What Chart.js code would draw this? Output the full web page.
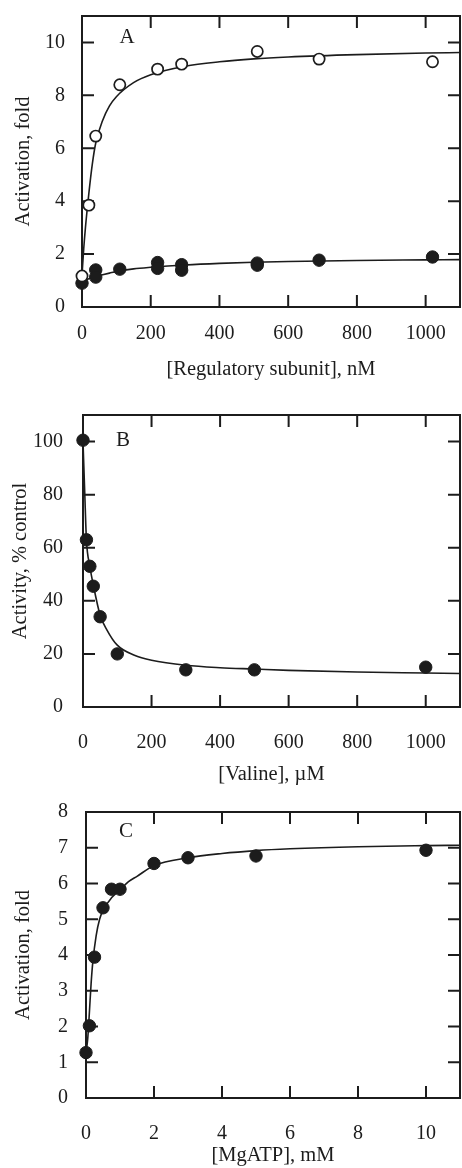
<!DOCTYPE html>
<html>
<head>
<meta charset="utf-8">
<script src="https://cdn.jsdelivr.net/npm/chart.js@4.4.1/dist/chart.umd.min.js"></script>
<style>
  html, body { margin: 0; padding: 0; background: #fff; overflow: hidden; }
  canvas { display: block; }
</style>
</head>
<body>
<canvas id="panelA" width="462" height="388"></canvas>
<canvas id="panelB" width="462" height="400"></canvas>
<canvas id="panelC" width="462" height="380"></canvas>
<script>
// ---- Panel A: activation vs regulatory subunit ----
const regOpenX = [0, 20, 40, 110, 220, 290, 510, 690, 1020];
const regOpenY = [1.17, 3.85, 6.46, 8.40, 8.99, 9.18, 9.66, 9.37, 9.27];
const regFilledX = [0, 40, 40, 110, 220, 220, 290, 290, 510, 510, 690, 1020];
const regFilledY = [0.9, 1.40, 1.13, 1.43, 1.68, 1.46, 1.60, 1.39, 1.66, 1.58, 1.77, 1.89];
// fitted curves
const regFitX = [0, 5, 10, 20, 30, 40, 60, 80, 100, 150, 200, 300, 400, 500, 600, 800, 1000, 1100];
const regOpenFit = [1.2, 2.2, 3.0, 4.3, 5.4, 6.2, 7.05, 7.6, 7.95, 8.48, 8.78, 9.1, 9.27, 9.38, 9.45, 9.54, 9.6, 9.62];
const regFilledFit = [0.95, 1.0, 1.03, 1.07, 1.12, 1.16, 1.22, 1.28, 1.34, 1.44, 1.5, 1.59, 1.65, 1.69, 1.72, 1.76, 1.78, 1.79];

// ---- Panel B: activity vs valine ----
const valineX = [0, 10, 20, 30, 50, 100, 300, 500, 1000];
const valineY = [100.5, 63, 53, 45.5, 34, 20, 14, 14, 15];
const valineFitX = [0, 5, 10, 20, 30, 50, 70, 100, 150, 200, 300, 400, 500, 600, 800, 1000, 1100];
const valineFit = [100, 81, 63, 53, 46, 34.6, 29, 23.3, 19.5, 17.6, 15.7, 14.8, 14.3, 13.8, 13.2, 12.8, 12.6];

// ---- Panel C: activation vs MgATP ----
const atpX = [0, 0.1, 0.25, 0.5, 0.75, 1, 2, 3, 5, 10];
const atpY = [1.27, 2.02, 3.94, 5.32, 5.84, 5.84, 6.56, 6.72, 6.77, 6.93];
const atpFitX = [0, 0.05, 0.1, 0.15, 0.2, 0.3, 0.4, 0.5, 0.75, 1, 1.25, 1.5, 2, 3, 4, 5, 6, 8, 10, 11];
const atpFit = [1.27, 1.65, 2.4, 3.2, 3.8, 4.55, 5.0, 5.25, 5.6, 5.82, 6.05, 6.2, 6.5, 6.72, 6.84, 6.92, 6.97, 7.03, 7.06, 7.07];

const ink = '#1c1c1c';
const tickLen = 12;
Chart.defaults.font.family = "'Liberation Serif', 'Times New Roman', serif";
Chart.defaults.color = ink;

const toPoints = (xs, ys) => xs.map((x, i) => ({ x: x, y: ys[i] }));

// no automatic label padding, so the plot box sits where layout.padding says
function noAutoPad(s) {
  s.paddingTop = 0; s.paddingBottom = 0; s.paddingLeft = 0; s.paddingRight = 0;
}

// box frame, inward ticks on all four sides, panel letter
const framePlugin = {
  id: 'frame',
  beforeDatasetsDraw(chart, args, opts) {
    const { ctx, chartArea: a, scales: { x, y } } = chart;
    ctx.save();
    ctx.strokeStyle = ink;
    ctx.lineWidth = 2;
    ctx.strokeRect(a.left, a.top, a.right - a.left, a.bottom - a.top);
    ctx.beginPath();
    x.ticks.forEach(t => {
      const px = x.getPixelForValue(t.value);
      ctx.moveTo(px, a.bottom); ctx.lineTo(px, a.bottom - tickLen);
      ctx.moveTo(px, a.top); ctx.lineTo(px, a.top + tickLen);
    });
    y.ticks.forEach(t => {
      const py = y.getPixelForValue(t.value);
      ctx.moveTo(a.left, py); ctx.lineTo(a.left + tickLen, py);
      ctx.moveTo(a.right, py); ctx.lineTo(a.right - tickLen, py);
    });
    ctx.stroke();
    ctx.fillStyle = ink;
    ctx.font = "21px 'Liberation Serif', serif";
    ctx.textAlign = 'center';
    ctx.textBaseline = 'middle';
    ctx.fillText(opts.letter, a.left + opts.dx, a.top + opts.dy);
    ctx.restore();
  }
};

function pointSet(xs, ys, open) {
  return {
    data: toPoints(xs, ys),
    showLine: false,
    pointRadius: open ? 5.6 : 6.2,
    pointBorderWidth: open ? 1.7 : 1,
    pointBackgroundColor: open ? '#fff' : ink,
    pointBorderColor: ink,
    clip: false
  };
}

function curveSet(xs, ys) {
  return {
    data: toPoints(xs, ys),
    showLine: true,
    pointRadius: 0,
    borderColor: ink,
    borderWidth: 1.6,
    cubicInterpolationMode: 'monotone'
  };
}

function makePanel(id, p) {
  return new Chart(document.getElementById(id), {
    type: 'scatter',
    data: { datasets: p.datasets },
    options: {
      responsive: false,
      animation: false,
      layout: { autoPadding: false, padding: { top: p.top, right: 2, left: 0, bottom: 0 } },
      plugins: {
        legend: { display: false },
        tooltip: { enabled: false },
        frame: { letter: p.letter, dx: p.letterDx, dy: p.letterDy }
      },
      scales: {
        x: {
          type: 'linear', min: 0, max: p.xMax,
          grid: { display: false, drawTicks: false },
          border: { display: false },
          ticks: { stepSize: p.xStep, includeBounds: false, padding: p.xPad, maxRotation: 0,
                   autoSkip: false, font: { size: 20 }, callback: v => String(v) },
          title: { display: true, text: p.xTitle, font: { size: 20.5 },
                   padding: { top: 0, bottom: p.xTitlePad } },
          afterFit: s => { s.height = p.xHeight; noAutoPad(s); }
        },
        y: {
          type: 'linear', min: 0, max: p.yMax,
          grid: { display: false, drawTicks: false },
          border: { display: false },
          ticks: { stepSize: p.yStep, includeBounds: false, padding: p.yPad,
                   autoSkip: false, font: { size: 20 }, callback: v => String(v) },
          title: { display: true, text: p.yTitle, font: { size: 20.5 },
                   padding: { top: p.yTitlePad, bottom: 0 } },
          afterFit: s => { s.width = p.yWidth; noAutoPad(s); }
        }
      }
    },
    plugins: [framePlugin]
  });
}

makePanel('panelA', {
  datasets: [
    pointSet(regOpenX, regOpenY, true),
    pointSet(regFilledX, regFilledY, false),
    curveSet(regFitX, regOpenFit),
    curveSet(regFitX, regFilledFit)
  ],
  top: 16, xHeight: 81, yWidth: 82,
  xMax: 1100, xStep: 200, yMax: 11, yStep: 2,
  xPad: 15, yPad: 17, xTitlePad: 5.7, yTitlePad: 11.7,
  xTitle: '[Regulatory subunit], nM', yTitle: 'Activation, fold',
  letter: 'A', letterDx: 45, letterDy: 21
});

makePanel('panelB', {
  datasets: [
    pointSet(valineX, valineY, false),
    curveSet(valineFitX, valineFit)
  ],
  top: 27, xHeight: 81, yWidth: 83,
  xMax: 1100, xStep: 200, yMax: 110, yStep: 20,
  xPad: 24, yPad: 20, xTitlePad: 0.7, yTitlePad: 8.7,
  xTitle: '[Valine], \u00b5M', yTitle: 'Activity, % control',
  letter: 'B', letterDx: 40, letterDy: 25
});

makePanel('panelC', {
  datasets: [
    pointSet(atpX, atpY, false),
    curveSet(atpFitX, atpFit)
  ],
  top: 24, xHeight: 70, yWidth: 86,
  xMax: 11, xStep: 2, yMax: 8, yStep: 1,
  xPad: 24, yPad: 18, xTitlePad: 0, yTitlePad: 11.2,
  xTitle: '[MgATP], mM', yTitle: 'Activation, fold',
  letter: 'C', letterDx: 40, letterDy: 19
});
</script>
</body>
</html>
